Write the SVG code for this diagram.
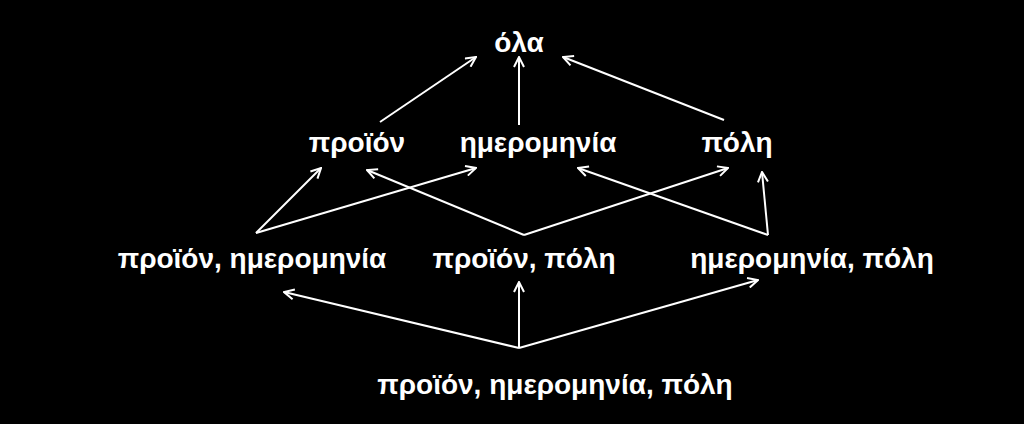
<svg xmlns="http://www.w3.org/2000/svg" width="1024" height="424" viewBox="0 0 1024 424">
<style>
text{font-family:"Liberation Sans",Arial,sans-serif;font-weight:bold;font-size:28px;fill:#fff;text-anchor:middle}
#connectors line{stroke:#fff;stroke-width:2;marker-end:url(#a)}
</style>
<defs><marker id="a" viewBox="0 0 12 12" refX="11" refY="6" markerWidth="12" markerHeight="12" markerUnits="userSpaceOnUse" orient="auto"><path d="M1,1 L11,6 L1,11" fill="none" stroke="#fff" stroke-width="2"/></marker></defs>
<rect width="1024" height="424" fill="#000"/>
<g id="connectors">
<line x1="380" y1="122" x2="476" y2="57"/>
<line x1="519" y1="125" x2="519" y2="57"/>
<line x1="724" y1="120" x2="563" y2="57"/>
<line x1="256" y1="233" x2="321" y2="168"/>
<line x1="256" y1="233" x2="476" y2="168"/>
<line x1="524" y1="235" x2="367" y2="170"/>
<line x1="524" y1="235" x2="728" y2="168"/>
<line x1="768" y1="235" x2="578" y2="168"/>
<line x1="768" y1="235" x2="762" y2="172"/>
<line x1="519" y1="348" x2="284" y2="292"/>
<line x1="519" y1="348" x2="519" y2="282"/>
<line x1="519" y1="348" x2="758" y2="280"/>
</g>
<g id="n_all"><text x="519" y="52">όλα</text></g>
<g id="n_p"><text x="357" y="152">προϊόν</text></g>
<g id="n_h"><text x="538" y="152">ημερομηνία</text></g>
<g id="n_c"><text x="737" y="152">πόλη</text></g>
<g id="n_ph"><text x="252" y="268">προϊόν, ημερομηνία</text></g>
<g id="n_pc"><text x="524" y="268">προϊόν, πόλη</text></g>
<g id="n_hc"><text x="812" y="268">ημερομηνία, πόλη</text></g>
<g id="n_phc"><text x="555" y="394">προϊόν, ημερομηνία, πόλη</text></g>
</svg>
